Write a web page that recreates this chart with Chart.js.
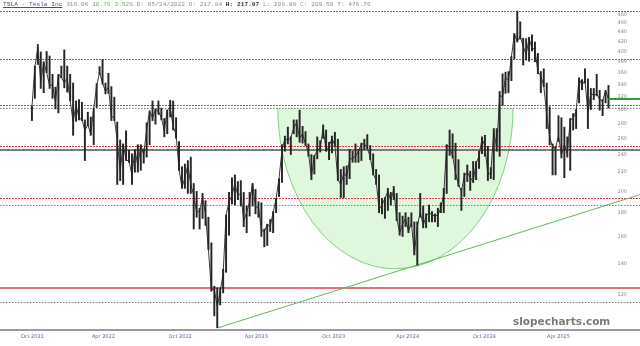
<!DOCTYPE html>
<html><head><meta charset="utf-8">
<script src="https://cdn.jsdelivr.net/npm/chart.js@4.4.0/dist/chart.umd.min.js"></script>
<style>
html,body{margin:0;padding:0;background:#fff;}
#wrap{position:relative;width:640px;height:346px;overflow:hidden;}
canvas{position:absolute;left:0;top:0;}
#hdr{position:absolute;left:3px;top:1px;font:6.2px "Liberation Mono",monospace;color:#8e8e8e;white-space:pre;line-height:8px;z-index:2;}
#hdr .t{color:#4a4f80;text-decoration:underline;}
#hdr .g{color:#6fb36f;}
#hdr b{color:#333;}
#wm{position:absolute;left:513px;top:315px;font:bold 10.5px "DejaVu Sans",sans-serif;color:#7a7a7a;z-index:2;}
</style></head>
<body><div id="wrap">
<canvas id="c" width="640" height="346"></canvas>
<div id="hdr"><span class="t">TSLA - Tesla Inc</span> <span>316.06</span> <span class="g">10.76 3.52%</span> D: 05/24/2022 O: 217.84 <b>H: 217.97</b> L: 206.86 C: 209.59 T: 476.76</div>
<div id="wm">slopecharts.com</div>
</div>
<script>
// ---- data (weekly TSLA, week ending Fridays from 2021-10-22 to 2025-07-25) ----
const firstWeekEnding = '2021-10-22';
const weeklyLow = [
284,317,375,333,326,360,333,317,301,295,351,
334,327,313,264,283,285,284,233,277,264,252,303,357,340,324,325,284,284,207,211,207,233,231,207,220,220,222,230,237,252,284,279,293,285,262,266,289,271,260,222,203,203,198,198,166,176,166,175,169,150,122,108,
101.8,114,121,134,161,188,187,192,186,168,163,177,186,179,176,160,152,153,164,163,180,195,209,244,253,240,266,262,255,254,251,238,212,218,235,243,260,244,234,242,250,211,194,194,207,213,231,231,231,233,246,247,
234,217,207,180,179,175,182,187,192,173,161,160,168,163,168,146,138.8,176,167,167,172,172,172,168,180,180,198,239,236,212,205,182,195,210,201,209,212,224,241,238,211,213,212,244,238,306,325,326,346,386,419,425,
374,383,381,401,380,358,326,336,273,252,217,217,256,236,214,237,222,271,273,310,331,342,273,300,315,321,299,291,310,302];
const weeklyHigh = [
305,372,414,399,380,400,391,357,335,357,372,
403,372,357,342,313,315,311,285,296,289,302,341,371,384,342,359,336,319,282,258,253,270,245,241,246,252,252,247,281,298,313,301,313,302,287,299,314,313,288,256,226,229,233,237,208,200,184,198,191,176,155,125,
124,124,136,178,199,214,217,210,211,199,186,199,208,202,190,189,166,170,174,181,193,213,252,263,275,262,285,285,299,276,269,253,240,239,262,257,278,271,255,263,268,259,223,226,227,246,244,253,246,254,259,265,
251,241,223,217,193,194,203,199,205,198,180,177,180,176,180,172,172,198,186,179,187,181,179,184,189,203,252,271,266,254,234,203,219,228,221,232,232,244,262,264,250,225,273,273,328,358,361,362,390,437,488.5,463,
427,426,429,434,419,396,362,367,342,304,253,250,291,288,275,262,287,294,300,351,348,367,349,333,333,357,330,315,330,338];
const weeklyClose = [
303,371,407,344,379,360,338,339,311,356,352,
342,350,314,282,308,287,286,270,279,265,302,337,361,342,328,335,290,288,257,221,253,234,232,217,246,227,251,240,272,297,288,300,297,288,270,299,303,276,265,223,204,214,228,207,196,180,182,194,179,150,123,123,
113,122,133,178,190,196,208,196,198,173,180,190,208,185,185,165,164,170,168,180,193,213,245,260,257,261,274,281,260,266,253,242,215,238,245,248,274,244,250,260,251,212,207,219,215,234,236,238,244,253,253,248,
237,218,212,183,187,193,200,191,202,175,163,170,175,164,171,147,168,181,169,177,180,178,177,178,184,197,252,248,239,219,207,200,216,220,214,210,230,238,260,250,217,220,269,248,321,320,352,346,389,436,421,431,
410,394,426,407,404,361,355,337,293,262,249,248,263,239,252,241,285,287,298,349,339,346,296,325,322,324,315,313,329,316.06];
const lastPrice = 316.06;

// horizontal levels (prices)
const redDashedLevels = [488.5, 385, 306.5, 250, 194];
const redSolidLevels = [124.2];
const grayDottedLevels = [302.5, 187, 115.8];
const graySolidLevels = [245];

// trendline anchors (date, price) and cup (rounded bottom) definition
const trendDates = ['2023-01-06', '2024-04-22'];
const trendPrices = [101.81, 138.8];
const cupDates = ['2023-05-28', '2024-12-08'];   // left / right rim
const cupRimPrice = 302.5;
const cupBottomPrice = 136.3;

// axes
const xTickDates = ['2021-10-21','2022-04-08','2022-10-08','2023-04-07','2023-10-08','2024-04-01','2024-10-01','2025-03-26'];
const xTickLabels = ['Oct 2021','Apr 2022','Oct 2022','Apr 2023','Oct 2023','Apr 2024','Oct 2024','Apr 2025'];
const yTickValues = [120,140,160,180,200,220,240,260,280,300,320,340,360,380,400,420,440,460,480];
const xRangeDates = ['2021-08-05', '2025-10-06'];
const yRange = [100.7, 491];

// ---- helpers ----
const BASE = Date.UTC(2021, 9, 1);
function dayNum(s){ const [y,m,d] = s.split('-').map(Number); return (Date.UTC(y, m-1, d) - BASE) / 86400000; }
const firstDay = dayNum(firstWeekEnding);
const weekMid = weeklyLow.map((_, i) => firstDay + 7*i - 2);  // mid-week position of each weekly bar
const xMin = dayNum(xRangeDates[0]), xMax = dayNum(xRangeDates[1]);

const barData = weekMid.map((x, i) => ({x, y:[weeklyLow[i], weeklyHigh[i]]}));
const closeData = weekMid.map((x, i) => ({x, y: weeklyClose[i]}));

const tD0 = dayNum(trendDates[0]), tD1 = dayNum(trendDates[1]);
const tSlope = Math.log(trendPrices[1]/trendPrices[0]) / (tD1 - tD0);
const trendData = [{x:tD0, y:trendPrices[0]}, {x:xMax, y: trendPrices[0]*Math.exp(tSlope*(xMax - tD0))}];
const lastData = [{x: weekMid[weekMid.length-1], y:lastPrice}, {x:xMax, y:lastPrice}];

const overlayPlugin = {
  id: 'overlay',
  beforeDatasetsDraw(chart){
    const {ctx, chartArea:a, scales:{x, y}} = chart;
    ctx.save();
    ctx.beginPath(); ctx.rect(a.left, a.top, a.right-a.left, a.bottom-a.top); ctx.clip();
    // cup
    const xl = x.getPixelForValue(dayNum(cupDates[0])), xr = x.getPixelForValue(dayNum(cupDates[1]));
    const yt = y.getPixelForValue(cupRimPrice), yb = y.getPixelForValue(cupBottomPrice);
    ctx.beginPath();
    ctx.ellipse((xl+xr)/2, yt, (xr-xl)/2, yb-yt, 0, 0, Math.PI, false);
    ctx.closePath();
    ctx.fillStyle = 'rgba(140,225,130,0.28)';
    ctx.fill();
    ctx.beginPath();
    ctx.ellipse((xl+xr)/2, yt, (xr-xl)/2, yb-yt, 0, 0, Math.PI, false);
    ctx.strokeStyle = 'rgba(90,190,90,0.9)'; ctx.lineWidth = 0.8; ctx.stroke();
    // levels
    const hline = (v, color, w, dash) => {
      const py = Math.round(y.getPixelForValue(v)) + (w % 2 ? 0.5 : 0);
      ctx.beginPath(); ctx.setLineDash(dash); ctx.strokeStyle = color; ctx.lineWidth = w;
      ctx.moveTo(a.left, py); ctx.lineTo(a.right, py); ctx.stroke();
    };
    redDashedLevels.forEach(v => hline(v, '#e0394b', 1, [2,1]));
    redSolidLevels.forEach(v => hline(v, '#e3707c', 2, []));
    grayDottedLevels.forEach(v => hline(v, '#7e7e7e', 1, [1.5,1.5]));
    graySolidLevels.forEach(v => hline(v, '#7c7c7c', 2, []));
    ctx.restore();
  },
  afterDraw(chart){
    const {ctx, chartArea:a, scales:{y}} = chart;
    ctx.save();
    ctx.font = '5px "DejaVu Sans"';
    ctx.fillStyle = '#8585a5';
    ctx.textAlign = 'right';
    ctx.textBaseline = 'middle';
    yTickValues.forEach(v => ctx.fillText(String(v), a.right - 13, y.getPixelForValue(v)));
    ctx.restore();
  }
};

new Chart(document.getElementById('c'), {
  type: 'bar',
  data: {
    datasets: [
      {type:'bar', data: barData, backgroundColor:'#262626', barThickness: 1.3, grouped:false, order:2},
      {type:'line', data: closeData, borderColor:'#262626', borderWidth:0.9, pointRadius:0, tension:0, order:1},
      {type:'line', data: trendData, borderColor:'#5cb85c', borderWidth:1, pointRadius:0, order:3},
      {type:'line', data: lastData, borderColor:'#2e9e2e', borderWidth:2, pointRadius:0, order:0}
    ]
  },
  options: {
    responsive:false, animation:false, devicePixelRatio:1,
    layout:{padding:{top:10, left:0, right:0, bottom:0}},
    plugins:{legend:{display:false}, tooltip:{enabled:false}},
    scales:{
      x:{type:'linear', min:xMin, max:xMax, offset:false,
         grid:{display:false, drawTicks:false},
         border:{display:true, color:'#9c9c9c', width:2},
         afterBuildTicks: s => { s.ticks = xTickDates.map(d => ({value: dayNum(d)})); },
         afterFit: s => { s.height = 16; },
         ticks:{autoSkip:false, maxRotation:0, minRotation:0, padding:4, align:'center',
                font:{size:5, family:'DejaVu Sans'}, color:'#5a62a8',
                callback:(v, i) => xTickLabels[i]}},
      y:{type:'logarithmic', position:'right', min:yRange[0], max:yRange[1],
         grid:{display:false}, border:{display:false},
         afterBuildTicks: s => { s.ticks = yTickValues.map(v => ({value:v})); },
         afterFit: s => { s.width = 0; },
         ticks:{display:false}}
    }
  },
  plugins:[overlayPlugin]
});
</script>
</body></html>
